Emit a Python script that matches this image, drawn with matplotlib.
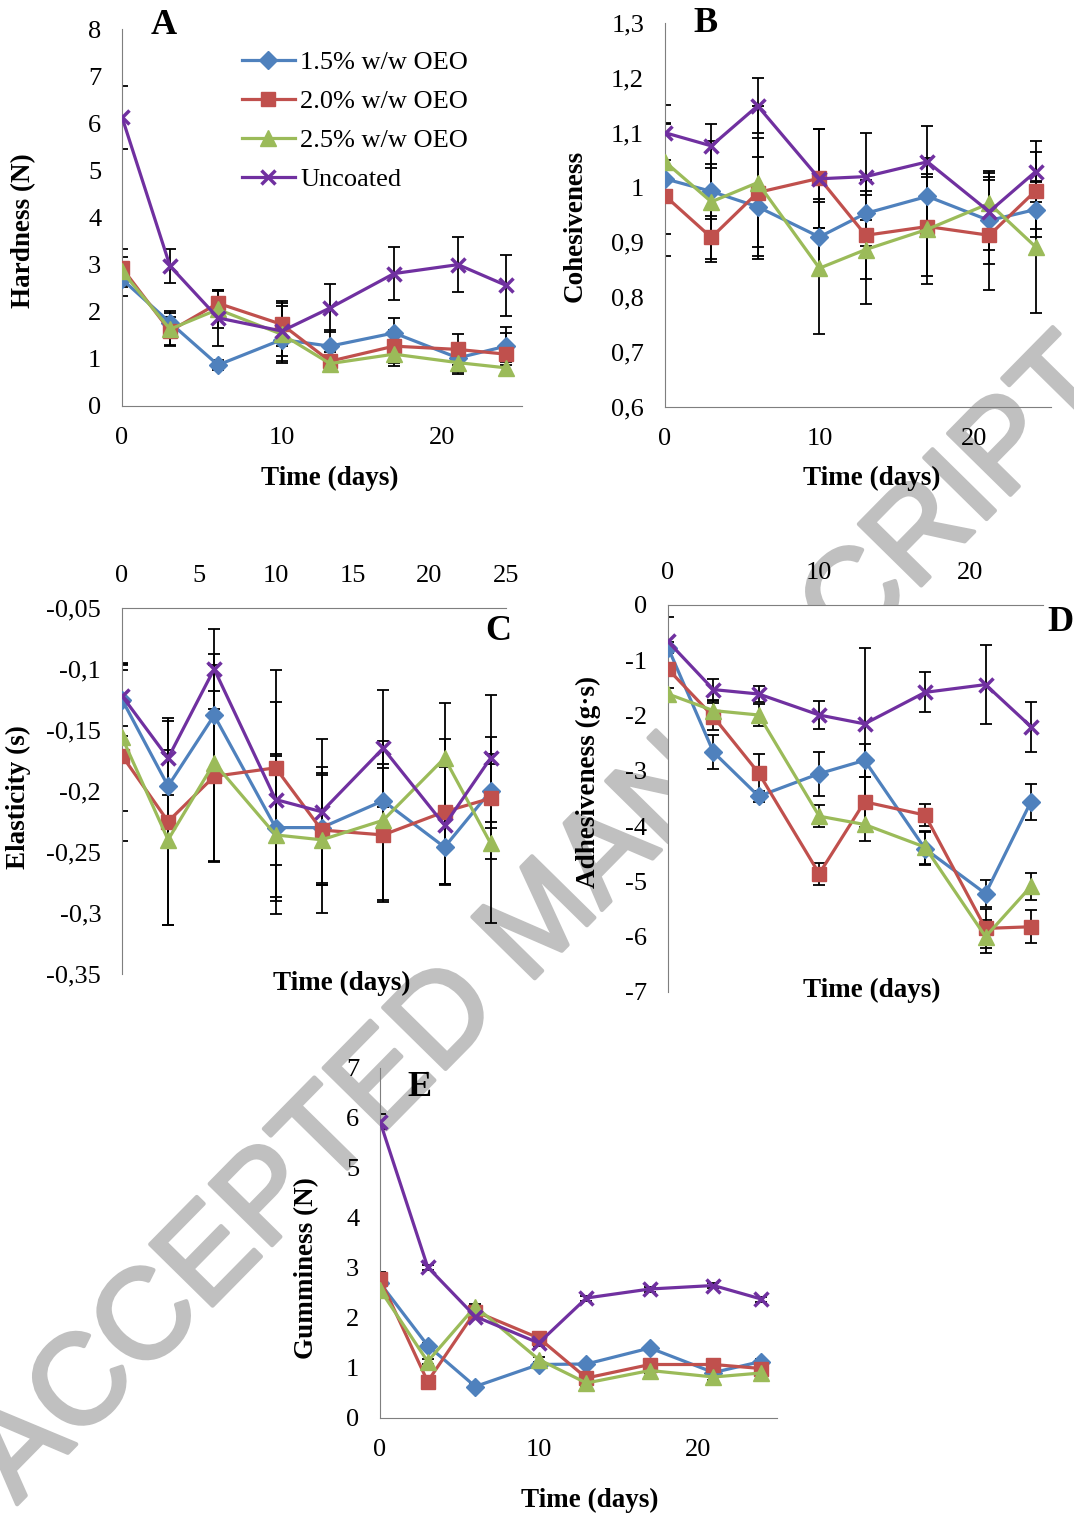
import numpy as np
import matplotlib
matplotlib.use("Agg")
import matplotlib.pyplot as plt
import matplotlib.patheffects as pe
from matplotlib.textpath import TextPath
from matplotlib.font_manager import FontProperties

plt.rcParams['font.family'] = ['Liberation Serif', 'DejaVu Serif']

W, H = 1074, 1517

days = [0, 3, 6, 10, 13, 17, 21, 24]
series_names = ["1.5% w/w OEO", "2.0% w/w OEO", "2.5% w/w OEO", "Uncoated"]

# A - hardness (N)
hard_15 = [2.69, 1.77, 0.87, 1.41, 1.27, 1.55, 1.02, 1.27]
hard_20 = [2.93, 1.59, 2.18, 1.73, 0.95, 1.27, 1.20, 1.10]
hard_25 = [2.86, 1.63, 2.05, 1.52, 0.90, 1.10, 0.92, 0.81]
hard_unc = [6.13, 2.97, 1.87, 1.59, 2.08, 2.81, 3.00, 2.56]
hard_15_err = [0.35, 0.25, 0.10, 0.35, 0.35, 0.32, 0.30, 0.40]
hard_20_err = [0.40, 0.30, 0.28, 0.45, 0.20, 0.35, 0.32, 0.45]
hard_25_err = [0.30, 0.35, 0.40, 0.60, 0.18, 0.25, 0.25, 0.12]
hard_unc_err = [0.67, 0.37, 0.60, 0.63, 0.50, 0.57, 0.59, 0.65]

# B - cohesiveness
coh_15 = [1.016, 0.993, 0.965, 0.910, 0.953, 0.984, 0.940, 0.960]
coh_20 = [0.985, 0.909, 0.991, 1.017, 0.913, 0.929, 0.913, 0.994]
coh_25 = [1.047, 0.974, 1.009, 0.853, 0.887, 0.924, 0.971, 0.892]
coh_unc = [1.100, 1.076, 1.149, 1.016, 1.020, 1.047, 0.956, 1.029]
coh_15_err = [0.10, 0.05, 0.09, 0.07, 0.06, 0.07, 0.08, 0.05]
coh_20_err = [0.11, 0.04, 0.10, 0.09, 0.08, 0.09, 0.10, 0.07]
coh_25_err = [0.07, 0.11, 0.14, 0.12, 0.10, 0.10, 0.06, 0.12]
coh_unc_err = [0.05, 0.04, 0.05, 0.09, 0.08, 0.065, 0.07, 0.055]

# C - elasticity (s)
ela_15 = [-0.125, -0.196, -0.138, -0.230, -0.230, -0.208, -0.246, -0.200]
ela_20 = [-0.171, -0.225, -0.188, -0.181, -0.232, -0.236, -0.217, -0.206]
ela_25 = [-0.156, -0.240, -0.177, -0.236, -0.240, -0.224, -0.173, -0.243]
ela_unc = [-0.122, -0.173, -0.100, -0.207, -0.217, -0.165, -0.228, -0.173]
ela_15_err = [0.03, 0.03, 0.05, 0.06, 0.045, 0.03, 0.03, 0.03]
ela_20_err = [0.07, 0.085, 0.07, 0.08, 0.045, 0.055, 0.06, 0.05]
ela_25_err = [0.06, 0.07, 0.08, 0.065, 0.06, 0.065, 0.045, 0.065]
ela_unc_err = [0.025, 0.03, 0.033, 0.08, 0.06, 0.048, 0.048, 0.052]

# D - adhesiveness (g.s)
adh_15 = [-0.77, -2.66, -3.46, -3.05, -2.81, -4.41, -5.22, -3.56]
adh_20 = [-1.16, -2.02, -3.04, -4.86, -3.56, -3.80, -5.85, -5.82]
adh_25 = [-1.61, -1.91, -1.99, -3.82, -3.97, -4.38, -6.00, -5.09]
adh_unc = [-0.66, -1.53, -1.61, -1.99, -2.15, -1.58, -1.44, -2.20]
adh_15_err = [0.10, 0.30, 0.10, 0.40, 0.30, 0.30, 0.25, 0.33]
adh_20_err = [0.10, 0.25, 0.35, 0.20, 0.45, 0.20, 0.35, 0.30]
adh_25_err = [0.10, 0.20, 0.20, 0.20, 0.30, 0.30, 0.30, 0.25]
adh_unc_err = [0.44, 0.20, 0.15, 0.25, 1.37, 0.36, 0.72, 0.45]

# E - gumminess (N)
gum_15 = [2.70, 1.45, 0.63, 1.07, 1.08, 1.40, 0.91, 1.13]
gum_20 = [2.78, 0.73, 2.13, 1.60, 0.80, 1.07, 1.07, 0.99]
gum_25 = [2.57, 1.13, 2.23, 1.17, 0.70, 0.95, 0.82, 0.90]
gum_unc = [5.93, 3.02, 2.03, 1.50, 2.40, 2.58, 2.65, 2.38]
gum_err = [0.15, 0.05, 0.05, 0.05, 0.05, 0.05, 0.05, 0.05]

colors = ["#4F81BD", "#C0504D", "#9BBB59", "#7030A0"]
markers = ["D", "s", "^", "x"]
msizes = [9, 10.5, 11, 10]

WATERMARK = "ACCEPTED MANUSCRIPT"


def fx(px):
    return px / W


def fy(py):
    return 1 - py / H


def comma(v):
    return ("%g" % v).replace(".", ",")


def make_axes(left, right, top, bottom):
    return fig.add_axes([fx(left), fy(bottom), fx(right) - fx(left), (bottom - top) / H])


def draw(ax, vals, errs):
    for i in range(4):
        ax.errorbar(days, vals[i], yerr=errs[i], fmt='none', ecolor='black',
                    elinewidth=1.3, capsize=4.5, capthick=1.3, zorder=2)
    for i in range(4):
        ax.plot(days, vals[i], color=colors[i], marker=markers[i], ms=msizes[i],
                mew=2.5 if markers[i] == "x" else 1, lw=2.3, label=series_names[i], zorder=3)


def style(ax, xticks, yticks, xlim, ylim, top_axis=False, face='none'):
    ax.set_facecolor(face)
    ax.set_xlim(*xlim)
    ax.set_ylim(*ylim)
    ax.set_xticks(xticks)
    ax.set_xticklabels([comma(t) for t in xticks])
    ax.set_yticks(yticks)
    ax.set_yticklabels([comma(t) for t in yticks])
    for s in ax.spines.values():
        s.set_visible(False)
    ax.spines['left'].set_visible(True)
    ax.spines['left'].set_color('#7f7f7f')
    if top_axis:
        ax.spines['top'].set_visible(True)
        ax.spines['top'].set_color('#7f7f7f')
        ax.xaxis.tick_top()
    else:
        ax.spines['bottom'].set_visible(True)
        ax.spines['bottom'].set_color('#7f7f7f')
    ax.tick_params(length=0, labelsize=19, pad=15)


def glyph_center(prefix, fp):
    full = TextPath((0, 0), prefix, size=100, prop=fp).get_extents()
    last = TextPath((0, 0), prefix[-1], size=100, prop=fp).get_extents()
    return np.array([full.x1 - last.width / 2, (last.y0 + last.y1) / 2])


def place_watermark(fig, p1, p2):
    # put the centre of the first "C" on p1 and the last "P" on p2 (pixels, from top-left)
    fp = FontProperties(family='Liberation Sans')
    s1 = glyph_center("AC", fp)
    s2 = glyph_center("ACCEPTED MANUSCRIP", fp)
    t1 = np.array([p1[0], H - p1[1]], float)
    t2 = np.array([p2[0], H - p2[1]], float)
    k = np.hypot(*(t2 - t1)) / np.hypot(*(s2 - s1))
    th = np.arctan2(*(t2 - t1)[::-1]) - np.arctan2(*(s2 - s1)[::-1])
    rot = np.array([[np.cos(th), -np.sin(th)], [np.sin(th), np.cos(th)]])
    anchor = t1 - rot @ (s1 * k)
    fig.text(anchor[0] / W, anchor[1] / H, WATERMARK, fontsize=72 * k, color='#c0c0c0',
             family='Liberation Sans', rotation=np.degrees(th), ha='left', va='baseline',
             rotation_mode='anchor', zorder=-1,
             path_effects=[pe.withStroke(linewidth=3, foreground='#c0c0c0')])


fig = plt.figure(figsize=(W / 100, H / 100), dpi=100)

# watermark (behind the charts)
place_watermark(fig, (78, 1380), (1003, 440))

# A
axA = make_axes(122, 522, 29, 406)
draw(axA, [hard_15, hard_20, hard_25, hard_unc],
     [hard_15_err, hard_20_err, hard_25_err, hard_unc_err])
style(axA, [0, 10, 20], list(range(0, 9)), (0, 25), (0, 8))
axA.legend(loc='upper left', bbox_to_anchor=(fx(242), fy(51)), bbox_transform=fig.transFigure,
           frameon=False, fontsize=19, borderpad=0, borderaxespad=0, handlelength=2.0,
           handletextpad=0.2, labelspacing=0.58)

# B
axB = make_axes(665, 1051, 23, 407)
draw(axB, [coh_15, coh_20, coh_25, coh_unc],
     [coh_15_err, coh_20_err, coh_25_err, coh_unc_err])
style(axB, [0, 10, 20], [0.6, 0.7, 0.8, 0.9, 1, 1.1, 1.2, 1.3], (0, 25), (0.6, 1.3))

# C
axC = make_axes(122, 506, 608, 974)
draw(axC, [ela_15, ela_20, ela_25, ela_unc],
     [ela_15_err, ela_20_err, ela_25_err, ela_unc_err])
style(axC, [0, 5, 10, 15, 20, 25], [-0.35, -0.3, -0.25, -0.2, -0.15, -0.1, -0.05],
      (0, 25), (-0.35, -0.05), top_axis=True)

# D (white plot area hides the watermark)
axD = make_axes(668, 1043, 605, 992)
draw(axD, [adh_15, adh_20, adh_25, adh_unc],
     [adh_15_err, adh_20_err, adh_25_err, adh_unc_err])
style(axD, [0, 10, 20], list(range(-7, 1)), (0, 24.8), (-7, 0), top_axis=True, face='white')

# E
axE = make_axes(380, 777, 1068, 1418)
draw(axE, [gum_15, gum_20, gum_25, gum_unc], [gum_err] * 4)
style(axE, [0, 10, 20], list(range(0, 8)), (0, 25), (0, 7))

# labels
lab = dict(fontsize=19.5, fontweight='bold', ha='center', va='center')
for x, y, t in [(330, 478, "Time (days)"), (872, 478, "Time (days)"),
                (342, 983, "Time (days)"), (872, 990, "Time (days)"),
                (590, 1500, "Time (days)")]:
    fig.text(fx(x), fy(y), t, **lab)
for x, y, t in [(24, 231, "Hardness (N)"), (575, 226, "Cohesiveness"),
                (18, 797, "Elasticity (s)"), (588, 782, "Adhesiveness (g\u00b7s)"),
                (307, 1268, "Gumminess (N)")]:
    fig.text(fx(x), fy(y), t, rotation=90, **lab)
for x, y, t in [(164, 25, "A"), (706, 24, "B"), (498, 631, "C"),
                (1060, 623, "D"), (420, 1088, "E")]:
    fig.text(fx(x), fy(y), t, fontsize=26, fontweight='bold', ha='center', va='center')

fig.savefig("out.png", dpi=100)
